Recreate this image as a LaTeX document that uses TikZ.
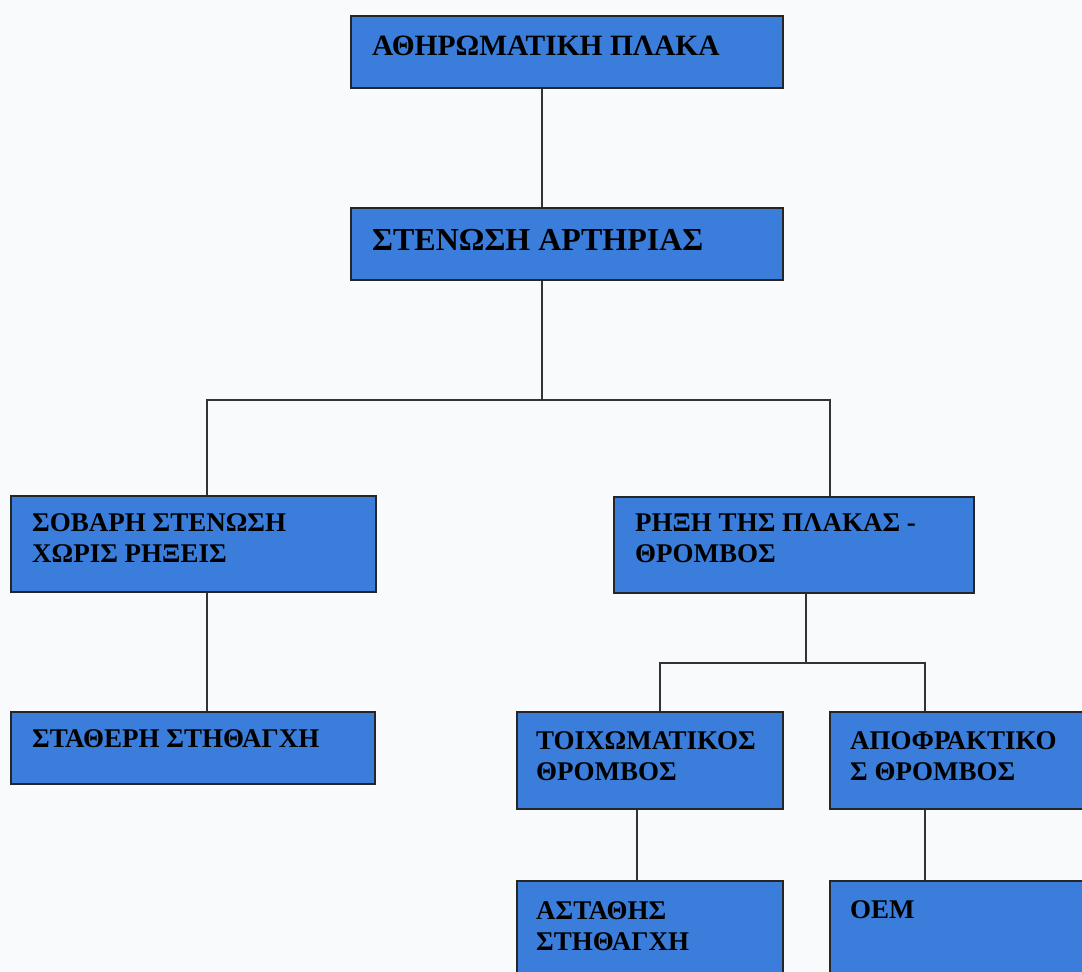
\documentclass[tikz,border=0pt]{standalone}
\usepackage{fontspec}
\setmainfont{Liberation Serif}
\begin{document}
\begin{tikzpicture}[x=1pt,y=-1pt,
  box/.style={draw=black!85, line width=2pt, fill=boxblue, anchor=north west, inner sep=0pt},
  lbl/.style={anchor=base west, inner sep=0pt, align=left, font=\bfseries\fontsize{27}{31}\selectfont},
  toplbl/.style={anchor=base west, inner sep=0pt, font=\bfseries\fontsize{29.5}{33}\selectfont},
  biglbl/.style={anchor=base west, inner sep=0pt, font=\bfseries\fontsize{32}{36}\selectfont},
  conn/.style={draw=black!80, line width=1.6pt}]
\definecolor{boxblue}{RGB}{59,125,218}
\definecolor{bg}{RGB}{248,250,252}
\fill[bg] (0,0) rectangle (1082,972);
\useasboundingbox (0,0) rectangle (1082,972);
% boxes
\node[box, minimum width=432, minimum height=72] (a) at (350,15) {};
\node[box, minimum width=432, minimum height=72] (b) at (350,207) {};
\node[box, minimum width=365, minimum height=96] (c) at (10,495) {};
\node[box, minimum width=360, minimum height=96] (d) at (613,496) {};
\node[box, minimum width=364, minimum height=72] (e) at (10,711) {};
\node[box, minimum width=266, minimum height=97] (f) at (516,711) {};
\node[box, minimum width=270, minimum height=97] (g) at (829,711) {};
\node[box, minimum width=266, minimum height=110] (h) at (516,880) {};
\node[box, minimum width=270, minimum height=110] (i) at (829,880) {};
% labels (base = last line's baseline)
\node[toplbl] (ta) at (372,55) {ΑΘΗΡΩΜΑΤΙΚΗ ΠΛΑΚΑ};
\node[biglbl] (tb) at (372,250) {ΣΤΕΝΩΣΗ ΑΡΤΗΡΙΑΣ};
\node[lbl] (tc) at (32,562) {ΣΟΒΑΡΗ ΣΤΕΝΩΣΗ\\ΧΩΡΙΣ ΡΗΞΕΙΣ};
\node[lbl] (td) at (635,562) {ΡΗΞΗ ΤΗΣ ΠΛΑΚΑΣ -\\ΘΡΟΜΒΟΣ};
\node[lbl] (te) at (32,747) {ΣΤΑΘΕΡΗ ΣΤΗΘΑΓΧΗ};
\node[lbl] (tf) at (536,780) {ΤΟΙΧΩΜΑΤΙΚΟΣ\\ΘΡΟΜΒΟΣ};
\node[lbl] (tg) at (850,780) {ΑΠΟΦΡΑΚΤΙΚΟ\\Σ ΘΡΟΜΒΟΣ};
\node[lbl] (th) at (536,950) {ΑΣΤΑΘΗΣ\\ΣΤΗΘΑΓΧΗ};
\node[lbl] (ti) at (850,918) {ΟΕΜ};
% connectors
\coordinate (j1) at (542,400);
\coordinate (j2) at (806,663);
\draw[conn] (a.south -| 542,0) -- (b.north -| 542,0);
\draw[conn] (b.south -| j1) -- (j1);
\draw[conn] (c.north -| 207,0) |- (j1) -| (d.north -| 830,0);
\draw[conn] (c.south -| 207,0) -- (e.north -| 207,0);
\draw[conn] (d.south -| j2) -- (j2);
\draw[conn] (f.north -| 660,0) |- (j2) -| (g.north -| 925,0);
\draw[conn] (f.south -| 637,0) -- (h.north -| 637,0);
\draw[conn] (g.south -| 925,0) -- (i.north -| 925,0);
\end{tikzpicture}
\end{document}
